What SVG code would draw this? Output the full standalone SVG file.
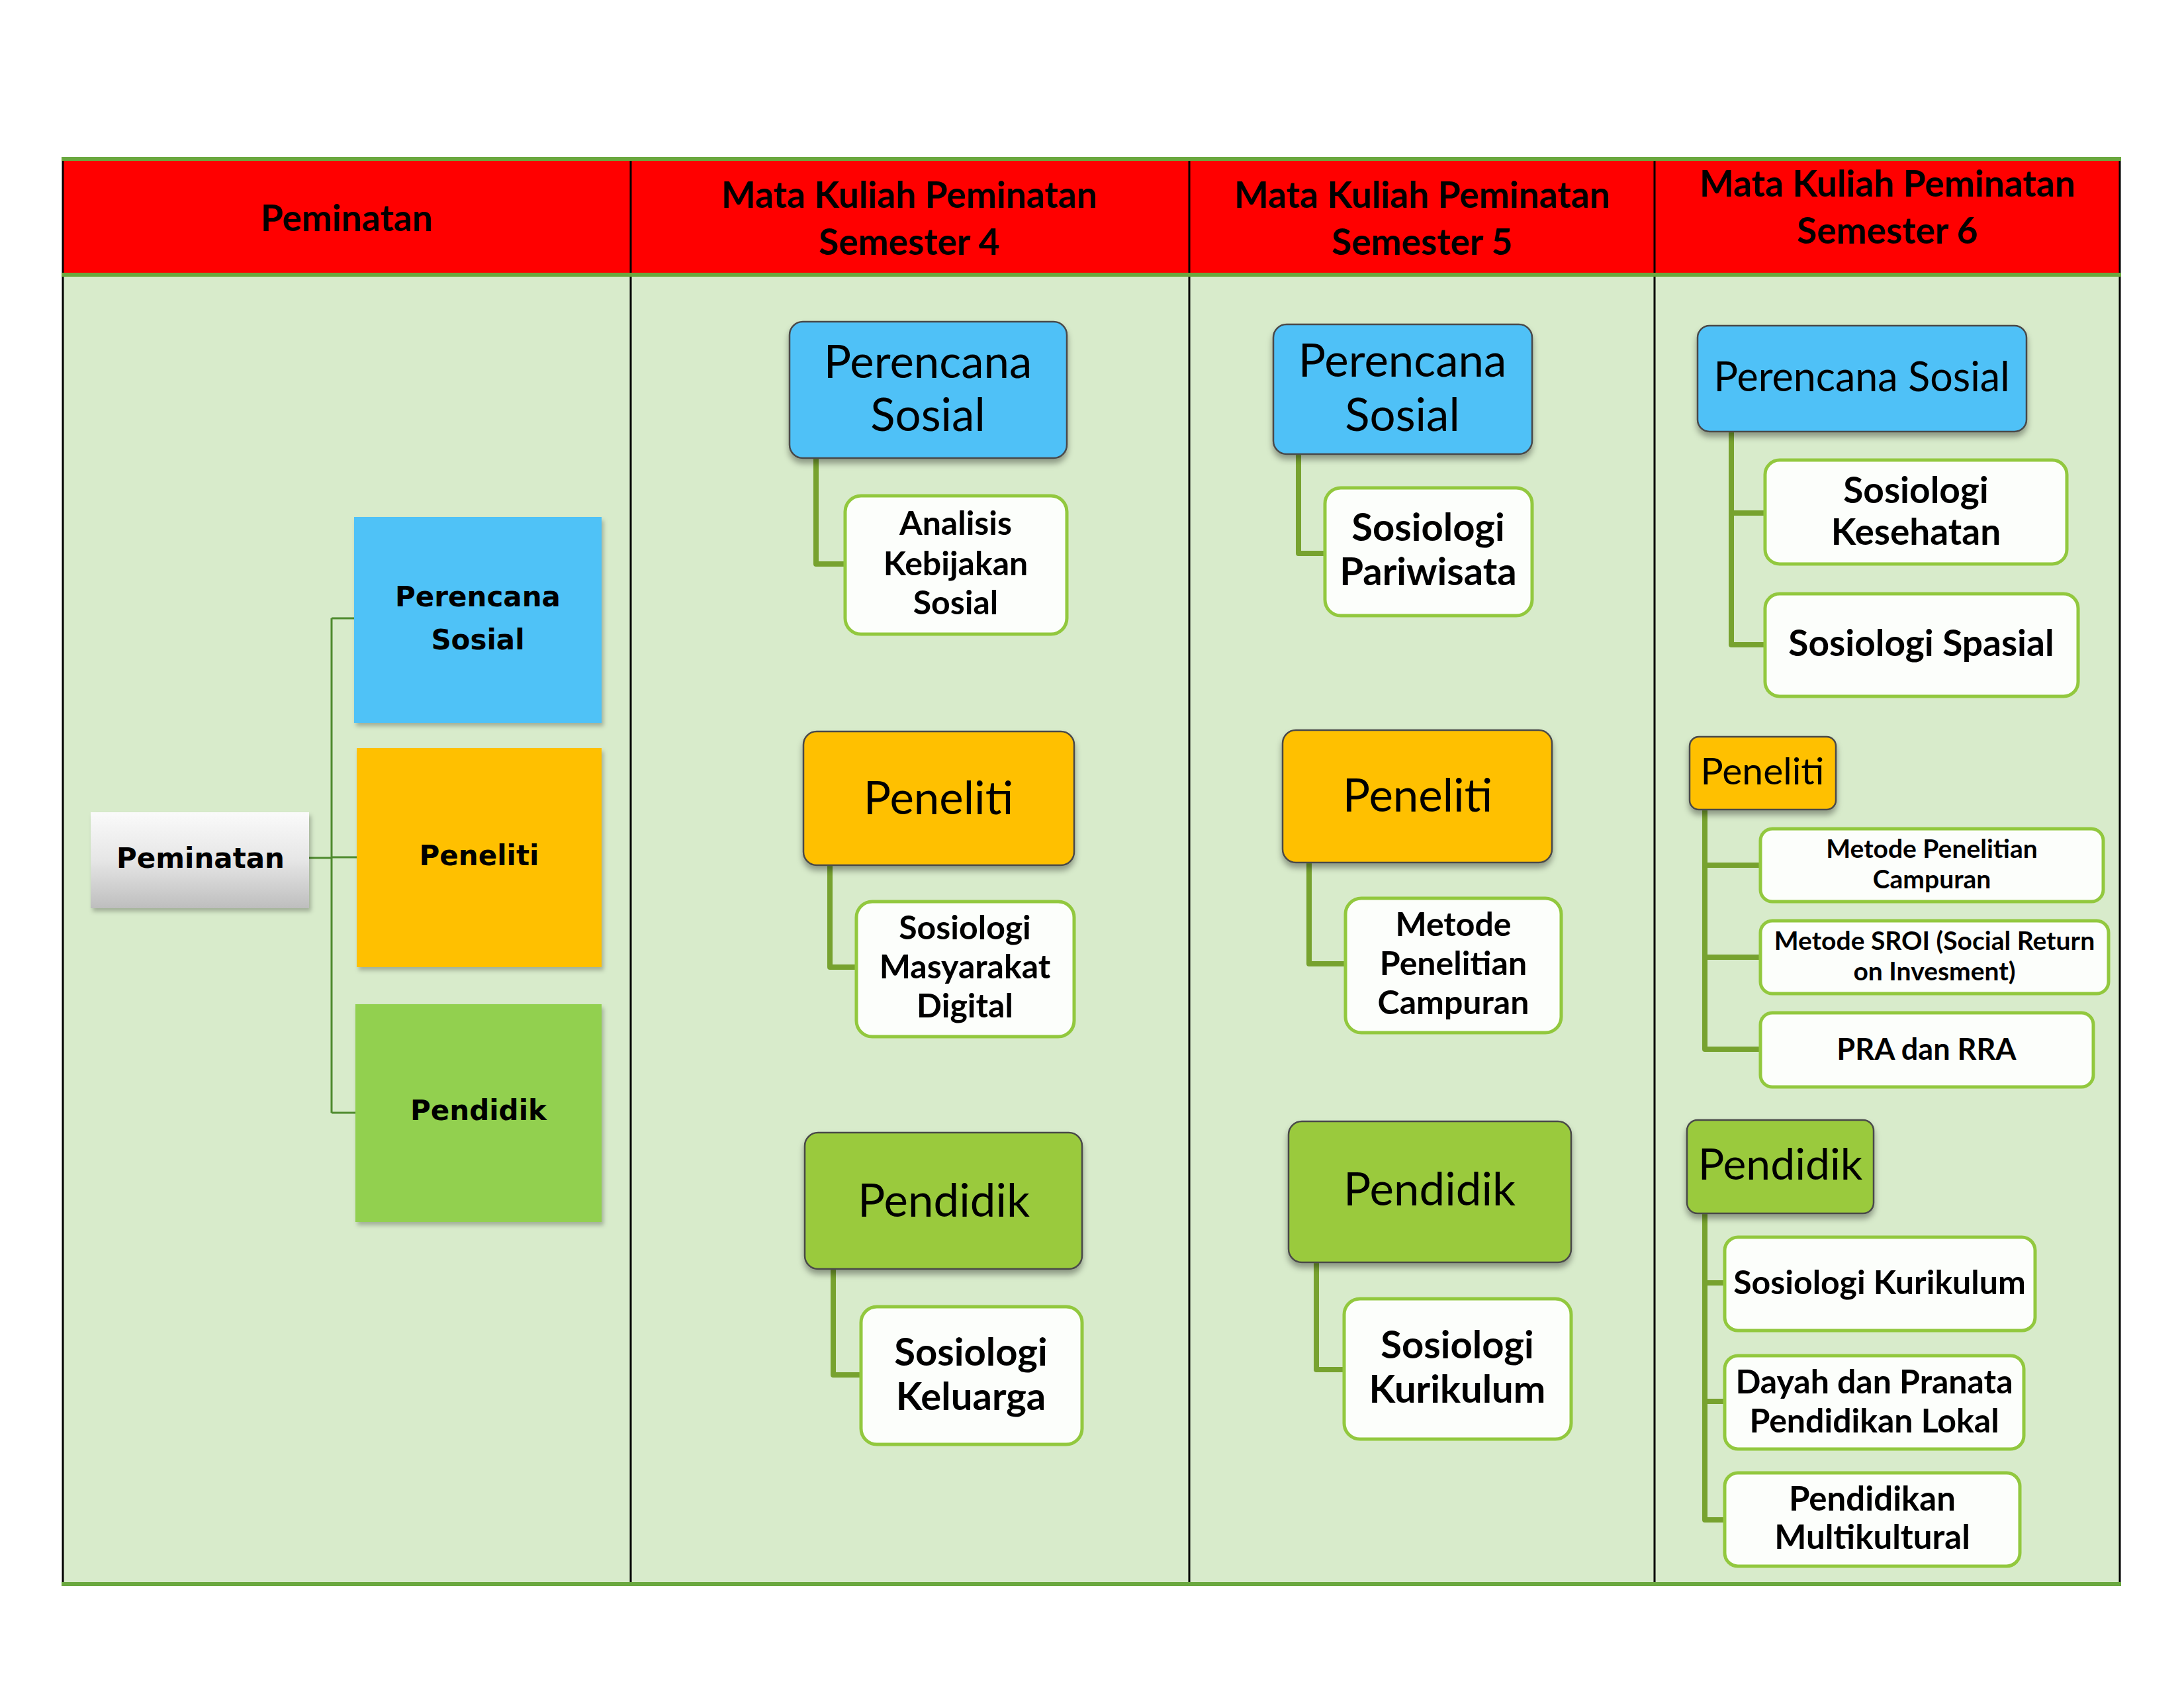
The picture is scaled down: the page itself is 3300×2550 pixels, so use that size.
<svg xmlns="http://www.w3.org/2000/svg" width="3300" height="2550" viewBox="0 0 3300 2550">
<defs>
  <filter id="sh" x="-10%" y="-10%" width="125%" height="135%">
    <feDropShadow dx="0" dy="7" stdDeviation="5" flood-color="#000" flood-opacity="0.35"/>
  </filter>
  <filter id="shs" x="-10%" y="-10%" width="125%" height="130%">
    <feDropShadow dx="3" dy="5" stdDeviation="3" flood-color="#000" flood-opacity="0.25"/>
  </filter>
  <linearGradient id="grey" x1="0" y1="0" x2="0" y2="1">
    <stop offset="0" stop-color="#FAFAFA"/>
    <stop offset="0.5" stop-color="#E6E6E6"/>
    <stop offset="1" stop-color="#BEBEBE"/>
  </linearGradient>
</defs>
<style>
  .hdr { font-family: Lato, "Liberation Sans", sans-serif; font-weight: 700; font-size: 55px; text-anchor: middle; fill: #000; }
  .cat { font-family: Lato, "Liberation Sans", sans-serif; font-weight: 400; font-size: 69px; text-anchor: middle; fill: #000; }
  .sub { font-family: Lato, "Liberation Sans", sans-serif; font-weight: 700; font-size: 50px; text-anchor: middle; fill: #000; }
  .lft { font-family: "DejaVu Sans", Verdana, sans-serif; font-weight: 700; font-size: 42px; text-anchor: middle; fill: #000; }
  .top { stroke: #4a4a4a; stroke-width: 2.5; filter: url(#sh); }
  .blue { fill: #4FC1F7; }
  .orange { fill: #FFC000; }
  .green { fill: #9ACA3C; }
  .child { fill: #FCFEFB; stroke: #92C83E; stroke-width: 5; }
  .conn { fill: none; stroke: #77A22F; stroke-width: 8; stroke-linejoin: round; }
  .lconn { fill: none; stroke: #4E8A2E; stroke-width: 3; }
  .vline { stroke: #000; stroke-width: 3; }
  .gline { stroke: #6AA83F; stroke-width: 6; }
</style>

<g id="table">
  <rect x="95" y="240" width="3108" height="175" fill="#FF0000"/>
  <rect x="95" y="415" width="3108" height="1978" fill="#D8EBCB"/>
  <line class="vline" x1="95" y1="240" x2="95" y2="2393"/>
  <line class="vline" x1="953" y1="240" x2="953" y2="2393"/>
  <line class="vline" x1="1797" y1="240" x2="1797" y2="2393"/>
  <line class="vline" x1="2500" y1="240" x2="2500" y2="2393"/>
  <line class="vline" x1="3203" y1="240" x2="3203" y2="2393"/>
  <line class="gline" x1="93" y1="240" x2="3205" y2="240"/>
  <line class="gline" x1="93" y1="415" x2="3205" y2="415"/>
  <line class="gline" x1="93" y1="2393" x2="3205" y2="2393"/>
  <text class="hdr" x="524" y="349">Peminatan</text>
  <text class="hdr" x="1374" y="314">Mata Kuliah Peminatan</text>
  <text class="hdr" x="1374" y="385">Semester 4</text>
  <text class="hdr" x="2149" y="314">Mata Kuliah Peminatan</text>
  <text class="hdr" x="2149" y="385">Semester 5</text>
  <text class="hdr" x="2852" y="297">Mata Kuliah Peminatan</text>
  <text class="hdr" x="2852" y="368">Semester 6</text>
</g>

<g id="connectors">
  <path class="lconn" d="M467,1296 H501 M501,934 V1681 M501,934 H535 M501,1295 H539 M501,1681 H537"/>
  <path class="conn" d="M1233,692 V852 H1277"/>
  <path class="conn" d="M1254,1307 V1461 H1294"/>
  <path class="conn" d="M1259,1917 V2077 H1301"/>
  <path class="conn" d="M1962,686 V836 H2002"/>
  <path class="conn" d="M1978,1303 V1456 H2033"/>
  <path class="conn" d="M1989,1907 V2069 H2031"/>
  <path class="conn" d="M2616,652 V974 H2667 M2616,775 H2667"/>
  <path class="conn" d="M2576,1223 V1585 H2660 M2576,1307 H2660 M2576,1446 H2660"/>
  <path class="conn" d="M2576,1833 V2296 H2606 M2576,1938 H2606 M2576,2117 H2606"/>
</g>

<g id="left-peminatan">
  <rect x="137" y="1227" width="330" height="145" fill="url(#grey)" filter="url(#shs)"/>
  <text class="lft" x="303" y="1311">Peminatan</text>
</g>
<g id="left-perencana">
  <rect x="535" y="781" width="374" height="311" fill="#50C2F7" filter="url(#shs)"/>
  <text class="lft" x="722" y="916">Perencana</text>
  <text class="lft" x="722" y="981">Sosial</text>
</g>
<g id="left-peneliti">
  <rect x="539" y="1130" width="370" height="331" fill="#FFC000" filter="url(#shs)"/>
  <text class="lft" x="724" y="1307">Peneliti</text>
</g>
<g id="left-pendidik">
  <rect x="537" y="1517" width="372" height="329" fill="#92D050" filter="url(#shs)"/>
  <text class="lft" x="723" y="1692">Pendidik</text>
</g>

<g id="s4-perencana">
  <rect class="top blue" x="1193" y="486" width="419" height="206" rx="20"/>
  <text class="cat" x="1402" y="571">Perencana</text>
  <text class="cat" x="1402" y="651">Sosial</text>
</g>
<g id="s4-analisis">
  <rect class="child" x="1277" y="749" width="335" height="209" rx="24"/>
  <text class="sub" x="1444" y="808">Analisis</text>
  <text class="sub" x="1444" y="869">Kebijakan</text>
  <text class="sub" x="1444" y="928">Sosial</text>
</g>
<g id="s4-peneliti">
  <rect class="top orange" x="1214" y="1105" width="409" height="202" rx="20"/>
  <text class="cat" x="1418" y="1230">Peneliti</text>
</g>
<g id="s4-masyarakat">
  <rect class="child" x="1294" y="1362" width="329" height="204" rx="24"/>
  <text class="sub" x="1458" y="1419">Sosiologi</text>
  <text class="sub" x="1458" y="1478">Masyarakat</text>
  <text class="sub" x="1458" y="1537">Digital</text>
</g>
<g id="s4-pendidik">
  <rect class="top green" x="1216" y="1711" width="419" height="206" rx="20"/>
  <text class="cat" x="1426" y="1838">Pendidik</text>
</g>
<g id="s4-keluarga">
  <rect class="child" x="1301" y="1974" width="334" height="208" rx="24"/>
  <text class="sub" x="1467" y="2063" style="font-size:58px">Sosiologi</text>
  <text class="sub" x="1467" y="2130" style="font-size:58px">Keluarga</text>
</g>

<g id="s5-perencana">
  <rect class="top blue" x="1924" y="490" width="391" height="196" rx="20"/>
  <text class="cat" x="2119" y="569">Perencana</text>
  <text class="cat" x="2119" y="651">Sosial</text>
</g>
<g id="s5-pariwisata">
  <rect class="child" x="2002" y="737" width="313" height="193" rx="24"/>
  <text class="sub" x="2158" y="817" style="font-size:58px">Sosiologi</text>
  <text class="sub" x="2158" y="884" style="font-size:58px">Pariwisata</text>
</g>
<g id="s5-peneliti">
  <rect class="top orange" x="1938" y="1103" width="407" height="200" rx="20"/>
  <text class="cat" x="2142" y="1226">Peneliti</text>
</g>
<g id="s5-metode">
  <rect class="child" x="2033" y="1357" width="326" height="203" rx="24"/>
  <text class="sub" x="2196" y="1414">Metode</text>
  <text class="sub" x="2196" y="1473">Penelitian</text>
  <text class="sub" x="2196" y="1532">Campuran</text>
</g>
<g id="s5-pendidik">
  <rect class="top green" x="1947" y="1694" width="427" height="213" rx="20"/>
  <text class="cat" x="2160" y="1821">Pendidik</text>
</g>
<g id="s5-kurikulum">
  <rect class="child" x="2031" y="1962" width="343" height="212" rx="24"/>
  <text class="sub" x="2202" y="2052" style="font-size:58px">Sosiologi</text>
  <text class="sub" x="2202" y="2119" style="font-size:58px">Kurikulum</text>
</g>

<g id="s6-perencana">
  <rect class="top blue" x="2565" y="492" width="497" height="160" rx="18"/>
  <text class="cat" x="2813" y="591" style="font-size:61px">Perencana Sosial</text>
</g>
<g id="s6-kesehatan">
  <rect class="child" x="2667" y="695" width="456" height="157" rx="22"/>
  <text class="sub" x="2895" y="760" style="font-size:55px">Sosiologi</text>
  <text class="sub" x="2895" y="823" style="font-size:55px">Kesehatan</text>
</g>
<g id="s6-spasial">
  <rect class="child" x="2667" y="897" width="473" height="155" rx="22"/>
  <text class="sub" x="2903" y="991" style="font-size:55px">Sosiologi Spasial</text>
</g>
<g id="s6-peneliti">
  <rect class="top orange" x="2553" y="1113" width="221" height="110" rx="14"/>
  <text class="cat" x="2663" y="1185" style="font-size:57px">Peneliti</text>
</g>
<g id="s6-metode">
  <rect class="child" x="2660" y="1252" width="518" height="110" rx="18"/>
  <text class="sub" x="2919" y="1296" style="font-size:39px">Metode Penelitian</text>
  <text class="sub" x="2919" y="1342" style="font-size:39px">Campuran</text>
</g>
<g id="s6-sroi">
  <rect class="child" x="2660" y="1391" width="526" height="110" rx="18"/>
  <text class="sub" x="2923" y="1435" style="font-size:39px">Metode SROI (Social Return</text>
  <text class="sub" x="2923" y="1481" style="font-size:39px">on Invesment)</text>
</g>
<g id="s6-pra">
  <rect class="child" x="2660" y="1530" width="503" height="112" rx="18"/>
  <text class="sub" x="2911" y="1601" style="font-size:45px">PRA dan RRA</text>
</g>
<g id="s6-pendidik">
  <rect class="top green" x="2549" y="1692" width="282" height="141" rx="16"/>
  <text class="cat" x="2690" y="1782" style="font-size:66px">Pendidik</text>
</g>
<g id="s6-kurikulum">
  <rect class="child" x="2606" y="1869" width="469" height="141" rx="20"/>
  <text class="sub" x="2840" y="1955" style="font-size:50px">Sosiologi Kurikulum</text>
</g>
<g id="s6-dayah">
  <rect class="child" x="2606" y="2048" width="452" height="141" rx="20"/>
  <text class="sub" x="2832" y="2105" style="font-size:50px">Dayah dan Pranata</text>
  <text class="sub" x="2832" y="2164" style="font-size:50px">Pendidikan Lokal</text>
</g>
<g id="s6-multikultural">
  <rect class="child" x="2606" y="2225" width="446" height="141" rx="20"/>
  <text class="sub" x="2829" y="2282" style="font-size:51px">Pendidikan</text>
  <text class="sub" x="2829" y="2340" style="font-size:51px">Multikultural</text>
</g>
</svg>
